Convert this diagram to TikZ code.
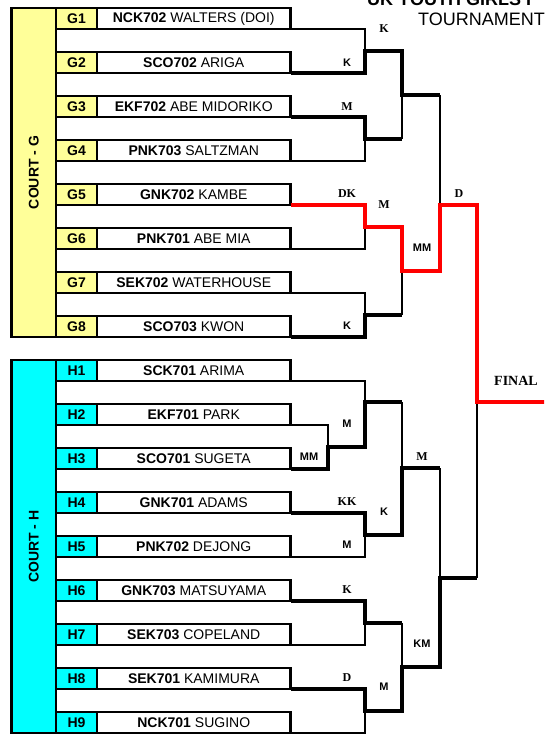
\documentclass[tikz,border=0pt]{standalone}
\usepackage{fontspec}
\setmainfont{Liberation Sans}
\newfontfamily\tnr{Liberation Serif}
\usetikzlibrary{positioning}
\definecolor{courtG}{RGB}{255,255,153}
\definecolor{courtH}{RGB}{0,255,255}
\definecolor{winred}{RGB}{255,0,0}
\tikzset{
  court/.style={draw, line width=2.6pt, rotate=90, minimum width=#1, minimum height=44.5pt,
    inner sep=0pt, outer sep=0pt, font=\fontsize{14}{16}\selectfont\bfseries},
  seed/.style={draw, line width=2.6pt, minimum width=41pt, minimum height=21pt,
    inner sep=0pt, outer sep=0pt, font=\fontsize{14}{16}\selectfont\bfseries},
  entry/.style={draw, fill=white, line width=2.6pt, minimum width=193.5pt, minimum height=21pt,
    inner sep=0pt, outer sep=0pt, font=\fontsize{14}{16}\selectfont},
  lost/.style={line width=1.3pt},
  won/.style={line width=3.3pt},
  champ/.style={line width=3.5pt, draw=winred},
  tag/.style={inner sep=0pt, font=\fontsize{11}{12}\selectfont\bfseries},
  stag/.style={inner sep=0pt, font=\fontsize{12}{13}\selectfont\tnr\bfseries}
}
\begin{document}
\begin{tikzpicture}[x=1pt,y=-1pt]
  \clip (0,0) rectangle (544,735);
  \node[font=\fontsize{18}{20}\selectfont\bfseries, anchor=base west, inner sep=0pt] (title) at (367,5.5) {UK YOUTH GIRLS I};
  \node[font=\fontsize{18}{20}\selectfont, anchor=east, inner sep=0pt] (subtitle) at (545,19) {TOURNAMENT};
  % courts
  \node[court=329pt, fill=courtG] (courtG) at (33.75,172.5) {COURT - G};
  \node[court=373pt, fill=courtH] (courtH) at (33.75,546.5) {COURT - H};
  % court G players
  \node[seed, fill=courtG] (sG1) at (76.5,18.5) {G1};
  \node[entry, right=0pt of sG1] (G1) {\textbf{NCK702} WALTERS (DOI)};
  \node[seed, fill=courtG] (sG2) at (76.5,62.5) {G2};
  \node[entry, right=0pt of sG2] (G2) {\textbf{SCO702} ARIGA};
  \node[seed, fill=courtG] (sG3) at (76.5,106.5) {G3};
  \node[entry, right=0pt of sG3] (G3) {\textbf{EKF702} ABE MIDORIKO};
  \node[seed, fill=courtG] (sG4) at (76.5,150.5) {G4};
  \node[entry, right=0pt of sG4] (G4) {\textbf{PNK703} SALTZMAN};
  \node[seed, fill=courtG] (sG5) at (76.5,194.5) {G5};
  \node[entry, right=0pt of sG5] (G5) {\textbf{GNK702} KAMBE};
  \node[seed, fill=courtG] (sG6) at (76.5,238.5) {G6};
  \node[entry, right=0pt of sG6] (G6) {\textbf{PNK701} ABE MIA};
  \node[seed, fill=courtG] (sG7) at (76.5,282.5) {G7};
  \node[entry, right=0pt of sG7] (G7) {\textbf{SEK702} WATERHOUSE};
  \node[seed, fill=courtG] (sG8) at (76.5,326.5) {G8};
  \node[entry, right=0pt of sG8] (G8) {\textbf{SCO703} KWON};
  % court H players
  \node[seed, fill=courtH] (sH1) at (76.5,370.5) {H1};
  \node[entry, right=0pt of sH1] (H1) {\textbf{SCK701} ARIMA};
  \node[seed, fill=courtH] (sH2) at (76.5,414.5) {H2};
  \node[entry, right=0pt of sH2] (H2) {\textbf{EKF701} PARK};
  \node[seed, fill=courtH] (sH3) at (76.5,458.5) {H3};
  \node[entry, right=0pt of sH3] (H3) {\textbf{SCO701} SUGETA};
  \node[seed, fill=courtH] (sH4) at (76.5,502.5) {H4};
  \node[entry, right=0pt of sH4] (H4) {\textbf{GNK701} ADAMS};
  \node[seed, fill=courtH] (sH5) at (76.5,546.5) {H5};
  \node[entry, right=0pt of sH5] (H5) {\textbf{PNK702} DEJONG};
  \node[seed, fill=courtH] (sH6) at (76.5,590.5) {H6};
  \node[entry, right=0pt of sH6] (H6) {\textbf{GNK703} MATSUYAMA};
  \node[seed, fill=courtH] (sH7) at (76.5,634.5) {H7};
  \node[entry, right=0pt of sH7] (H7) {\textbf{SEK703} COPELAND};
  \node[seed, fill=courtH] (sH8) at (76.5,678.5) {H8};
  \node[entry, right=0pt of sH8] (H8) {\textbf{SEK701} KAMIMURA};
  \node[seed, fill=courtH] (sH9) at (76.5,722.5) {H9};
  \node[entry, right=0pt of sH9] (H9) {\textbf{NCK701} SUGINO};
  % match points
  \coordinate (g12) at (365,51);
  \coordinate (g34) at (365,139);
  \coordinate (g56) at (365,227);
  \coordinate (g78) at (365,315);
  \coordinate (g14) at (402,95);
  \coordinate (g58) at (402,271);
  \coordinate (gw) at (440,205);
  \coordinate (h23) at (328,447);
  \coordinate (h13) at (365,402);
  \coordinate (h45) at (365,535);
  \coordinate (h15) at (402,468);
  \coordinate (h67) at (365,623);
  \coordinate (h89) at (365,711);
  \coordinate (h69) at (402,667);
  \coordinate (hw) at (440,578);
  \coordinate (fin) at (477,402);
  \coordinate (fend) at (546,402);
  % losers
  \draw[lost] (G1.south east) -| (g12);
  \draw[lost] (G4.south east) -| (g34);
  \draw[lost] (g34 -| g14) -- (g14);
  \draw[lost] (g14 -| gw) -- (gw);
  \draw[lost] (G6.south east) -| (g56);
  \draw[lost] (G7.south east) -| (g78);
  \draw[lost] (g78 -| g58) -- (g58);
  \draw[lost] (H1.south east) -| (h13);
  \draw[lost] (H2.south east) -| (h23);
  \draw[lost] (h13 -| h15) -- (h15);
  \draw[lost] (H5.south east) -| (h45);
  \draw[lost] (h15 -| hw) -- (hw);
  \draw[lost] (H7.south east) -| (h67);
  \draw[lost] (h67 -| h69) -- (h69);
  \draw[lost] (H9.south east) -| (h89);
  \draw[lost] (hw -| fin) -- (fin);
  % winners
  \draw[won] (G2.south east) -| (g12) -| (g14) -- (g14 -| gw);
  \draw[won] (G3.south east) -| (g34) -- (g34 -| g14);
  \draw[won] (G8.south east) -| (g78) -- (g78 -| g58);
  \draw[won] (H3.south east) -| (h23) -| (h13) -- (h13 -| h15);
  \draw[won] (H4.south east) -| (h45) -| (h15) -- (h15 -| hw);
  \draw[won] (H6.south east) -| (h67) -- (h67 -| h69);
  \draw[won] (H8.south east) -| (h89) -| (h69) -| (hw) -- (hw -| fin);
  \draw[champ] (G5.south east) -| (g56) -| (g58) -| (gw) -| (fin) -- (fend);
  % scores
  \node[stag] (t1) at (384,29) {K};
  \node[tag] (t2) at (347,63) {K};
  \node[stag] (t3) at (347,107) {M};
  \node[stag] (t4) at (347,194) {DK};
  \node[stag] (t5) at (384,205) {M};
  \node[stag] (t6) at (459,194) {D};
  \node[tag] (t7) at (422,248) {MM};
  \node[tag] (t8) at (347,326) {K};
  \node[stag, font=\fontsize{14}{15}\selectfont\tnr\bfseries] (final) at (516,381) {FINAL};
  \node[tag] (t9) at (347,424) {M};
  \node[tag] (t10) at (309,457) {MM};
  \node[stag] (t11) at (422,457) {M};
  \node[stag] (t12) at (347,502) {KK};
  \node[tag] (t13) at (384,512) {K};
  \node[tag] (t14) at (347,545) {M};
  \node[stag] (t15) at (347,590) {K};
  \node[tag] (t16) at (422,644) {KM};
  \node[stag] (t17) at (347,678) {D};
  \node[tag] (t18) at (384,687) {M};
\end{tikzpicture}
\end{document}
